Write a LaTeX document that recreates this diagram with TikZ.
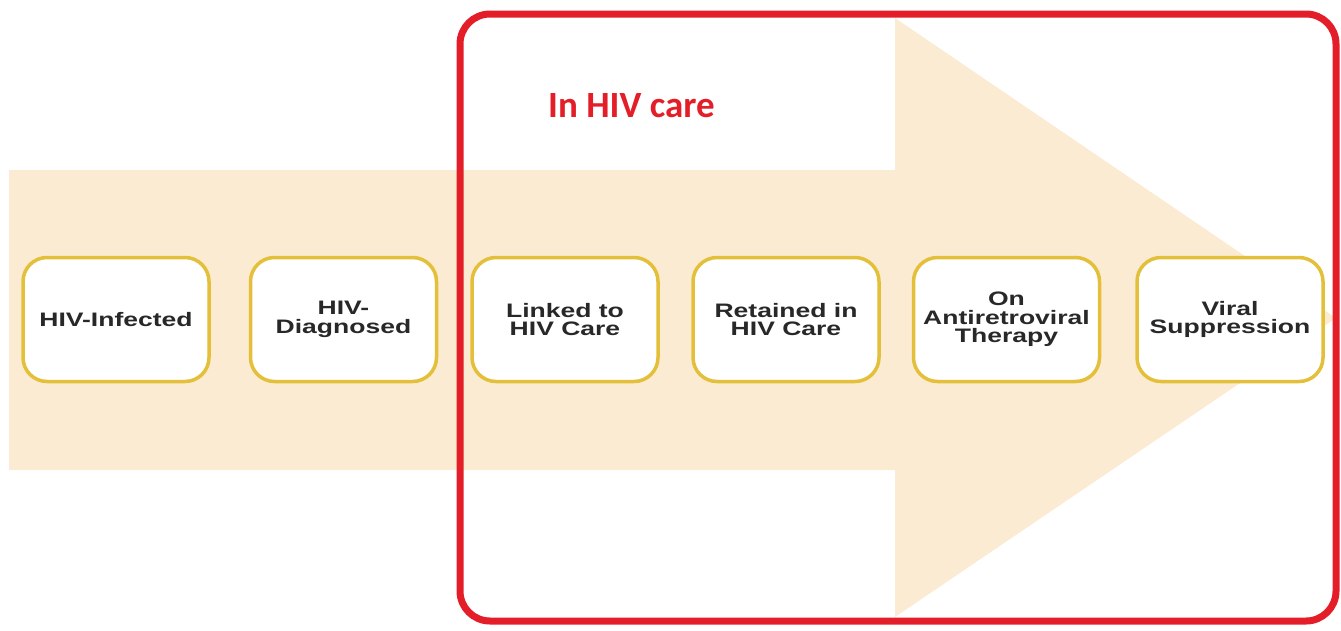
\documentclass[tikz,border=0pt]{standalone}
\usepackage{fontspec}
\newfontfamily\boxfont{Liberation Sans}[FakeStretch=1.36]
\newfontfamily\labfont{Carlito}
\definecolor{arrowfill}{RGB}{252,235,211}
\definecolor{frameRed}{RGB}{228,30,40}
\definecolor{boxGold}{RGB}{228,192,58}
\definecolor{boxText}{RGB}{40,40,40}
\tikzset{
  stagebox/.style={draw=boxGold, line width=3.5pt, fill=white, rounded corners=24pt,
    minimum width=186pt, minimum height=124pt, inner sep=0pt, align=center,
    text=boxText, font=\boxfont\bfseries\fontsize{19.5}{18.5}\selectfont},
  careframe/.style={draw=frameRed, line width=7pt, rounded corners=30pt},
}
\begin{document}
\begin{tikzpicture}[x=1pt,y=-1pt]
\useasboundingbox (0,0) rectangle (1341,630);
% big arrow
\fill[arrowfill] (9,170) -- (895,170) -- (895,18) -- (1336,318) -- (895,617) -- (895,470) -- (9,470) -- cycle;
% stages
\node[stagebox] (inf) at (116,319.5) {HIV-Infected};
\node[stagebox] (diag) at (343.5,319.5) {HIV-\\Diagnosed};
\node[stagebox] (link) at (565,319.5) {Linked to\\HIV Care};
\node[stagebox] (ret) at (786,319.5) {Retained in\\HIV Care};
\node[stagebox] (art) at (1006.5,319.5) {On\\Antiretroviral\\Therapy};
\node[stagebox] (vir) at (1230,319.5) {Viral\\Suppression};
% in care frame
\node[careframe, minimum width=876pt, minimum height=607pt] (frame) at (898,317.5) {};
\node[anchor=base west, inner sep=0pt, text=frameRed, font=\labfont\bfseries\fontsize{37}{40}\selectfont] (incare) at (548,117) {In HIV care};
\end{tikzpicture}
\end{document}
